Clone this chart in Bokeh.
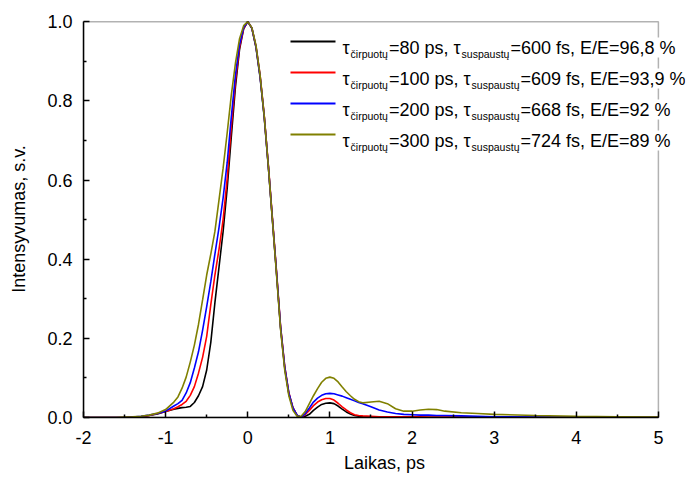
from bokeh.plotting import figure
from bokeh.models import Range1d, FixedTicker, PrintfTickFormatter, Label, BoxAnnotation
from bokeh.embed import file_html
from bokeh.resources import INLINE

# ---------------- data ----------------
t = [-2.0, -1.6, -1.5, -1.4, -1.3, -1.2, -1.1, -1.0, -0.9,
     -0.85, -0.8, -0.75, -0.7, -0.65, -0.6, -0.55, -0.5, -0.45, -0.4, -0.35, -0.3,
     -0.25, -0.2, -0.15, -0.1, -0.05, 0.0, 0.05, 0.1, 0.15, 0.2, 0.25, 0.3, 0.35,
     0.4, 0.45, 0.5, 0.55, 0.6, 0.65, 0.7, 0.75, 0.8, 0.85, 0.9, 0.95, 1.0, 1.05,
     1.1, 1.15, 1.2, 1.25, 1.3, 1.35,
     1.4, 1.5, 1.6, 1.7, 1.8, 1.9, 2.0, 2.1, 2.2, 2.3, 2.4,
     2.6, 2.8, 3.0, 3.5, 4.0, 4.5, 5.0]

y_80ps = [0, 0, 0, 0.001, 0.002, 0.005, 0.009, 0.015, 0.021,
          0.023, 0.025, 0.026, 0.028, 0.038, 0.055, 0.078, 0.12, 0.19, 0.29, 0.38, 0.47,
          0.58, 0.71, 0.835, 0.93, 0.982, 1.0, 0.983, 0.935, 0.86, 0.76, 0.635, 0.5, 0.365,
          0.225, 0.125, 0.06, 0.024, 0.006, 0.0, 0.003, 0.008, 0.018, 0.026, 0.033, 0.036, 0.037, 0.035,
          0.029, 0.021, 0.014, 0.009, 0.005, 0.003,
          0.002, 0.001, 0.001, 0, 0, 0, 0, 0, 0, 0, 0,
          0, 0, 0, 0, 0, 0, 0]

y_100ps = [0, 0, 0, 0.001, 0.002, 0.005, 0.01, 0.015, 0.022,
           0.027, 0.033, 0.041, 0.056, 0.078, 0.112, 0.152, 0.205, 0.285, 0.36, 0.425, 0.5,
           0.605, 0.735, 0.85, 0.935, 0.983, 1.0, 0.984, 0.938, 0.865, 0.765, 0.64, 0.505, 0.37,
           0.23, 0.13, 0.063, 0.025, 0.006, 0.0, 0.008, 0.018, 0.03, 0.039, 0.045, 0.048, 0.048, 0.044,
           0.036, 0.027, 0.019, 0.012, 0.007, 0.005,
           0.004, 0.003, 0.002, 0.002, 0.002, 0.002, 0.002, 0.002, 0.001, 0.001, 0.001,
           0.001, 0, 0, 0, 0, 0, 0]

y_200ps = [0, 0, 0, 0.001, 0.003, 0.006, 0.01, 0.016, 0.029,
           0.035, 0.043, 0.062, 0.088, 0.125, 0.166, 0.22, 0.28, 0.343, 0.413, 0.48, 0.555,
           0.645, 0.76, 0.865, 0.942, 0.985, 1.0, 0.984, 0.937, 0.862, 0.762, 0.637, 0.502, 0.367,
           0.228, 0.128, 0.062, 0.024, 0.006, 0.001, 0.01, 0.024, 0.039, 0.049, 0.056, 0.06, 0.061, 0.06,
           0.057, 0.054, 0.05, 0.046, 0.042, 0.038,
           0.035, 0.027, 0.019, 0.014, 0.01, 0.008, 0.007, 0.006, 0.006, 0.005, 0.005,
           0.004, 0.003, 0.002, 0.001, 0, 0, 0]

y_300ps = [0, 0, 0.001, 0.0015, 0.003, 0.006, 0.011, 0.02, 0.039,
           0.052, 0.074, 0.102, 0.14, 0.183, 0.235, 0.297, 0.36, 0.413, 0.47, 0.55, 0.63,
           0.72, 0.815, 0.895, 0.957, 0.99, 1.0, 0.985, 0.94, 0.865, 0.763, 0.637, 0.5, 0.362,
           0.222, 0.12, 0.055, 0.018, 0.003, 0.003, 0.015, 0.035, 0.055, 0.073, 0.089, 0.099, 0.102, 0.099,
           0.09, 0.077, 0.065, 0.055, 0.046, 0.04,
           0.037, 0.039, 0.041, 0.035, 0.022, 0.016, 0.016, 0.019, 0.021, 0.02, 0.016,
           0.012, 0.01, 0.008, 0.005, 0.003, 0.002, 0.001]

tau_chirped = ["80", "100", "200", "300"]          # ps
tau_compressed = ["600", "609", "668", "724"]      # fs
efficiency = ["96,8", "93,9", "92", "89"]          # %
colors = ["#000000", "#ff0000", "#0000ff", "#808000"]

x_ticks = [-2, -1, 0, 1, 2, 3, 4, 5]
x_minor = [-1.5, -0.5, 0.5, 1.5, 2.5, 3.5, 4.5]
y_ticks = [0.0, 0.2, 0.4, 0.6, 0.8, 1.0]
y_minor = [0.1, 0.3, 0.5, 0.7, 0.9]
x_lo, x_hi = -2, 5
y_lo, y_hi = 0, 1

FONT = "Liberation Sans"

# ---------------- figure ----------------
# the frame is a little wider than the data box so the legend text can run past x=5
p = figure(width=686, height=477, output_backend="svg", toolbar_location=None,
           x_range=Range1d(x_lo, 5.33), y_range=Range1d(y_lo, 1.003),
           min_border_left=83, min_border_right=1, min_border_top=20, min_border_bottom=60,
           x_axis_label="Laikas, ps", y_axis_label="Intensyvumas, s.v.")
p.grid.visible = False
p.outline_line_color = None
p.background_fill_color = "white"
p.border_fill_color = "white"

# data box border (the visible plot frame)
p.add_layout(BoxAnnotation(left=x_lo, right=x_hi, bottom=y_lo, top=y_hi,
                           fill_alpha=0, line_color="black", line_width=1.5))

for ys, c in zip([y_80ps, y_100ps, y_200ps, y_300ps], colors):
    p.line(t, ys, line_color=c, line_width=1.6)

p.xaxis.ticker = FixedTicker(ticks=x_ticks, minor_ticks=x_minor)
p.yaxis.ticker = FixedTicker(ticks=y_ticks, minor_ticks=y_minor)
p.xaxis.formatter = PrintfTickFormatter(format="%d")
p.yaxis.formatter = PrintfTickFormatter(format="%.1f")
p.xaxis.bounds = (x_lo, x_hi)
p.yaxis.bounds = (y_lo, y_hi)

for ax in (p.xaxis[0], p.yaxis[0]):
    ax.major_tick_in = 6
    ax.major_tick_out = 0
    ax.minor_tick_in = 3
    ax.minor_tick_out = 0
    ax.axis_line_width = 1.5
    ax.major_tick_line_width = 1.5
    ax.minor_tick_line_width = 1.5
    ax.major_label_text_font = FONT
    ax.major_label_text_font_size = "18px"
    ax.major_label_text_color = "black"
    ax.axis_label_text_font = FONT
    ax.axis_label_text_font_size = "18px"
    ax.axis_label_text_font_style = "normal"
    ax.axis_label_text_color = "black"
p.xaxis.major_label_standoff = 13
p.xaxis.axis_label_standoff = 6
p.yaxis.major_label_standoff = 11
p.yaxis.axis_label_standoff = 15

# ---------------- legend with subscripts ----------------
W = {'0': .556, '1': .556, '2': .556, '3': .556, '4': .556, '5': .556, '6': .556,
     '7': .556, '8': .556, '9': .556, ' ': .278, ',': .278, '=': .584, '%': .889,
     'E': .667, '/': .278, 'p': .556, 's': .5, 'f': .278, 'c': .5, 'č': .5, 'i': .222,
     'r': .333, 'u': .556, 'o': .556, 't': .278, 'ų': .556, 'a': .556, 'τ': .45}


def tw(s, size):
    return sum(W.get(ch, .556) for ch in s) * size


MAIN, SUB = 18, 10.5
x0 = 259          # text start, screen px from frame left
base0 = 370       # first row baseline, px from frame bottom
row_gap = 31
for i in range(4):
    base = base0 - i * row_gap
    sub = base - 6
    p.add_layout(BoxAnnotation(left=207, right=252, bottom=base + 5, top=base + 7,
                               left_units="screen", right_units="screen",
                               bottom_units="screen", top_units="screen",
                               fill_color=colors[i], fill_alpha=1, line_color=None))
    pieces = [("τ", MAIN, base),
              ("čirpuotų", SUB, sub),
              ("=" + tau_chirped[i] + " ps, τ", MAIN, base),
              ("suspaustų", SUB, sub),
              ("=" + tau_compressed[i] + " fs, E/E=" + efficiency[i] + " %", MAIN, base)]
    x = x0
    for k, (txt, size, yb) in enumerate(pieces):
        lab = Label(x=x, y=yb, x_units="screen", y_units="screen", text=txt,
                    text_font=FONT, text_font_size=f"{size}px", text_color="black",
                    text_align="left", text_baseline="alphabetic")
        if k == len(pieces) - 1:
            lab.background_fill_color = "white"
        p.add_layout(lab)
        x += tw(txt, size) + (1 if size == SUB else 0)

open("out.html", "w").write(file_html(p, INLINE))
